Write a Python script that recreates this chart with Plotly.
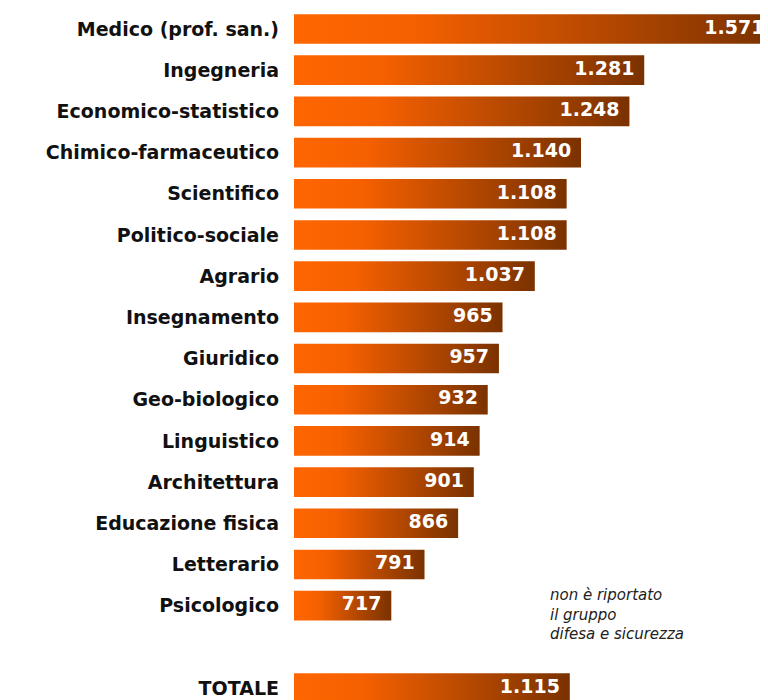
import plotly.graph_objects as go

# Retribuzione netta mensile per gruppo di corsi
categorie = [
    "Medico (prof. san.)", "Ingegneria", "Economico-statistico",
    "Chimico-farmaceutico", "Scientifico", "Politico-sociale", "Agrario",
    "Insegnamento", "Giuridico", "Geo-biologico", "Linguistico",
    "Architettura", "Educazione fisica", "Letterario", "Psicologico",
]
valori = [1571, 1281, 1248, 1140, 1108, 1108, 1037, 965, 957, 932, 914, 901, 866, 791, 717]
totale_label = "TOTALE"
totale_valore = 1115

nota = "non è riportato<br>il gruppo<br>difesa e sicurezza"

labels = categorie + [totale_label]
values = valori + [totale_valore]
pos = list(range(len(categorie))) + [len(categorie) + 1]

x_min = 500
half = 0.36
gradient = [[0, "#ff6600"], [0.25, "#f56000"], [1, "#7a3200"]]

fig = go.Figure()

for p, v in zip(pos, values):
    fig.add_trace(go.Scatter(
        x=[x_min, v, v, x_min, x_min],
        y=[p - half, p - half, p + half, p + half, p - half],
        mode="lines",
        line=dict(width=0),
        fill="toself",
        fillgradient=dict(type="horizontal", colorscale=gradient),
        hoverinfo="skip",
        showlegend=False,
    ))

# value labels inside the bar ends
fig.add_trace(go.Scatter(
    x=[v - 22 for v in values],
    y=pos,
    mode="text",
    text=[f"{v:,}".replace(",", ".") for v in values],
    textposition="middle left",
    textfont=dict(family="DejaVu Sans", size=19, color="white", weight="bold"),
    cliponaxis=False,
    hoverinfo="skip",
    showlegend=False,
))

fig.add_annotation(
    text=nota, xref="paper", yref="paper", x=0.536, y=0.168,
    xanchor="left", yanchor="top", align="left", showarrow=False,
    font=dict(family="DejaVu Sans", size=15, color="#222", style="italic"),
)

# page body has an 8px margin, so the figure is a bit smaller to fit the window
fig.update_layout(
    width=760, height=692,
    margin=dict(l=286, r=0, t=0, b=0, autoexpand=False),
    paper_bgcolor="white", plot_bgcolor="white",
    xaxis=dict(range=[x_min, 1557], visible=False, fixedrange=True),
    yaxis=dict(
        range=[16.29, -0.51],
        tickvals=pos, ticktext=labels,
        showgrid=False, zeroline=False, showline=False, ticks="",
        ticklabelstandoff=14,
        tickfont=dict(family="DejaVu Sans", size=19, color="#111", weight="bold"),
    ),
)

fig.write_html("out.html")
